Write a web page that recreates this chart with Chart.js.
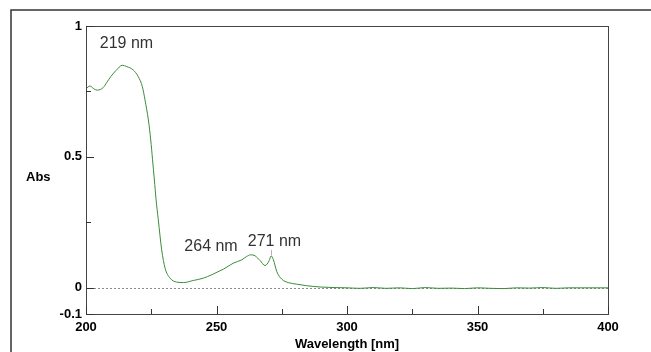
<!DOCTYPE html>
<html>
<head>
<meta charset="utf-8">
<script src="https://cdn.jsdelivr.net/npm/chart.js@4"></script>
<style>
  body { margin: 0; background: #fff; }
  canvas { display: block; }
</style>
</head>
<body>
<canvas id="ctx" width="651" height="352"></canvas>
<script>
// spectrum
const wavelength = [200, 201.5, 203, 204.3, 206.6, 208, 209.5, 211.5, 213.9, 215.6, 218.1, 220, 221.6, 222.6, 223.9, 224.8, 225.5, 226.2, 226.8, 227.7, 229, 230.3, 232.2, 234.7, 237.3, 241.1, 245, 248.2, 251.3, 252.6, 256.4, 259.7, 261.6, 263.1, 264.8, 266.7, 268.6, 270.2, 270.9, 271.8, 273.1, 275, 277.5, 280.7, 284.6, 290, 295, 300, 305, 310, 315, 320, 325, 330, 335, 340, 345, 350, 355, 360, 365, 370, 375, 380, 385, 390, 400]
const absorbance = [0.760, 0.771, 0.760, 0.755, 0.765, 0.785, 0.807, 0.830, 0.850, 0.845, 0.832, 0.807, 0.768, 0.718, 0.641, 0.565, 0.489, 0.412, 0.342, 0.260, 0.145, 0.075, 0.037, 0.022, 0.020, 0.028, 0.037, 0.050, 0.065, 0.071, 0.094, 0.107, 0.120, 0.126, 0.122, 0.104, 0.085, 0.104, 0.122, 0.107, 0.062, 0.033, 0.020, 0.014, 0.008, 0.003, 0.001, 0.000, -0.002, 0.001, -0.002, 0.000, -0.003, 0.001, -0.002, -0.001, -0.003, 0.000, -0.002, -0.003, 0.000, -0.001, 0.001, -0.002, 0.000, 0.000, 0.000]

const xTicks = [200, 250, 300, 350, 400]
const xMinorTicks = [225, 275, 325, 375]
const yTicks = [-0.1, 0, 0.5, 1]
const yMinorTicks = [0.25, 0.75]

const peakLabels = ['219 nm', '264 nm', '271 nm']

const FONT = 'Liberation Sans, Arial, sans-serif'

const frame = {
  id: 'frame',
  beforeDatasetsDraw: (chart) => {
    const {ctx} = chart
    const {left, right, top, bottom} = chart.chartArea
    const xs = chart.scales.x
    const ys = chart.scales.y
    const y0 = ys.getPixelForValue(0)

    ctx.save()
    // dotted zero line
    ctx.strokeStyle = '#8a8a8a'
    ctx.lineWidth = 1
    ctx.setLineDash([2, 2])
    ctx.beginPath()
    ctx.moveTo(left + 8, Math.round(y0) + 0.5)
    ctx.lineTo(right, Math.round(y0) + 0.5)
    ctx.stroke()
    ctx.setLineDash([])
    ctx.restore()
  },
  afterDraw: (chart) => {
    const {ctx} = chart
    const {left, right, top, bottom} = chart.chartArea
    const xs = chart.scales.x
    const ys = chart.scales.y

    ctx.save()
    // outer frame, only left and top are visible
    ctx.strokeStyle = '#333'
    ctx.lineWidth = 1.5
    ctx.beginPath()
    ctx.moveTo(11, 352)
    ctx.lineTo(11, 10)
    ctx.lineTo(651, 10)
    ctx.stroke()

    // plot box
    ctx.strokeStyle = '#444'
    ctx.lineWidth = 1
    ctx.strokeRect(Math.round(left) + 0.5, Math.round(top) + 0.5, Math.round(right - left), Math.round(bottom - top))

    // inward ticks
    ctx.strokeStyle = '#333'
    ctx.beginPath()
    const xt = (v, len) => {
      const px = Math.round(xs.getPixelForValue(v)) + 0.5
      ctx.moveTo(px, bottom)
      ctx.lineTo(px, bottom - len)
    }
    const yt = (v, len) => {
      const py = Math.round(ys.getPixelForValue(v)) + 0.5
      ctx.moveTo(left, py)
      ctx.lineTo(left + len, py)
    }
    xTicks.forEach(v => xt(v, 8))
    xMinorTicks.forEach(v => xt(v, 5))
    yTicks.forEach(v => yt(v, 8))
    yMinorTicks.forEach(v => yt(v, 5))
    ctx.stroke()

    // small marker above the 271 peak
    ctx.strokeStyle = '#c9a3c9'
    ctx.beginPath()
    const mx = Math.round(xs.getPixelForValue(270.9)) + 0.5
    ctx.moveTo(mx, ys.getPixelForValue(0.145))
    ctx.lineTo(mx, ys.getPixelForValue(0.124))
    ctx.stroke()

    // peak labels
    ctx.fillStyle = '#333'
    ctx.font = '16px ' + FONT
    ctx.textAlign = 'center'
    ctx.textBaseline = 'middle'
    const spots = [[215.5, 0.932], [247.9, 0.158], [272.2, 0.177]]
    peakLabels.forEach((t, i) => {
      ctx.fillText(t, xs.getPixelForValue(spots[i][0]), ys.getPixelForValue(spots[i][1]))
    })

    // y axis title, horizontal
    ctx.fillStyle = '#000'
    ctx.font = 'bold 13px ' + FONT
    ctx.textAlign = 'left'
    ctx.fillText('Abs', 26, 177)
    ctx.restore()
  }
}

const data = {
  datasets: [{
    data: wavelength.map((w, i) => ({x: w, y: absorbance[i]})),
    borderColor: '#3b8a3b',
    borderWidth: 1,
    pointRadius: 0,
    cubicInterpolationMode: 'monotone',
    fill: false,
  }]
}

const chart = new Chart(document.getElementById('ctx'), {
  type: 'line',
  data,
  options: {
    responsive: false,
    animation: false,
    devicePixelRatio: 1,
    layout: {padding: {left: 0, top: 26, right: 43, bottom: 0}},
    plugins: {legend: {display: false}, tooltip: {enabled: false}},
    scales: {
      x: {
        type: 'linear',
        min: 200,
        max: 400,
        afterBuildTicks: (s) => { s.ticks = xTicks.map(v => ({value: v})) },
        afterFit: (s) => { s.height = 38 },
        grid: {display: false, drawTicks: false},
        border: {display: false},
        ticks: {padding: 6, color: '#000', font: {family: FONT, size: 13, weight: 'bold'}, maxRotation: 0},
        title: {display: true, text: 'Wavelength [nm]', color: '#000', padding: {top: 0, bottom: 0}, font: {family: FONT, size: 13, weight: 'bold'}}
      },
      y: {
        min: -0.1,
        max: 1,
        afterBuildTicks: (s) => { s.ticks = yTicks.map(v => ({value: v})) },
        afterFit: (s) => { s.width = 86 },
        grid: {display: false, drawTicks: false},
        border: {display: false},
        ticks: {padding: 4, color: '#000', font: {family: FONT, size: 13, weight: 'bold'}, callback: (v) => String(v)}
      }
    }
  },
  plugins: [frame]
})
</script>
</body>
</html>
